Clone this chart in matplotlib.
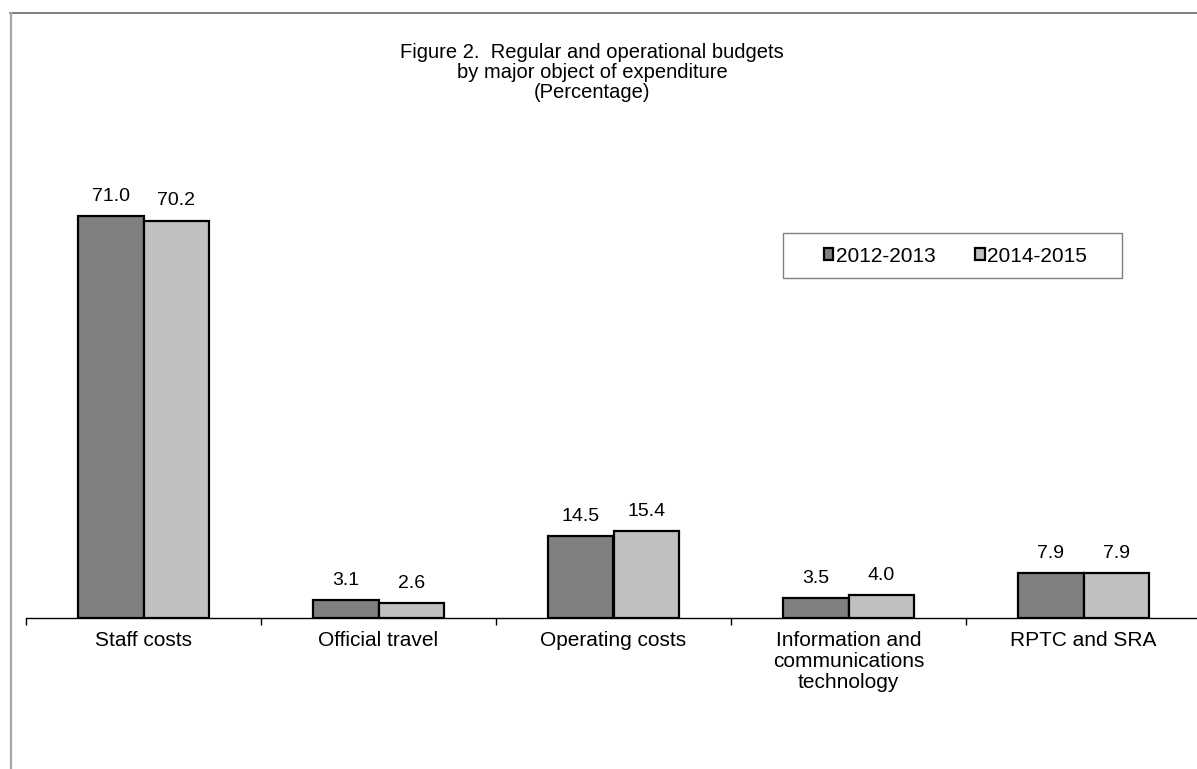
import matplotlib
matplotlib.use("Agg")
import matplotlib.pyplot as plt
import numpy as np
from matplotlib.lines import Line2D
from matplotlib.patches import Rectangle

plt.rcParams['font.family'] = ['Liberation Sans', 'DejaVu Sans']

categories = ["Staff costs", "Official travel", "Operating costs",
              "Information and\ncommunications\ntechnology", "RPTC and SRA"]
series_names = ["2012-2013", "2014-2015"]
values_2012_2013 = [71.0, 3.1, 14.5, 3.5, 7.9]
values_2014_2015 = [70.2, 2.6, 15.4, 4.0, 7.9]
colors = ["#808080", "#C0C0C0"]

W, H = 1197, 769
fig = plt.figure(figsize=(W / 100, H / 100), dpi=100)


def fx(px):
    return px / W


def fy(py):
    return 1 - py / H


# outer chart frame: top and left edges
fig.add_artist(Line2D([fx(10), 1.0], [fy(13), fy(13)], transform=fig.transFigure,
                      color="#6a6a6a", linewidth=1.2))
fig.add_artist(Line2D([fx(10.5), fx(10.5)], [fy(13), 0], transform=fig.transFigure,
                      color="#a8a8a8", linewidth=1.6))

ax_left, ax_right = 26, 1201
ax_bottom, ymax = 618, 80
px_per_unit = 402 / 71.0
ax_top = ax_bottom - ymax * px_per_unit
ax = fig.add_axes([fx(ax_left), fy(ax_bottom),
                   (ax_right - ax_left) / W, (ax_bottom - ax_top) / H])
ax.set_xlim(-0.5, len(categories) - 0.5)
ax.set_ylim(0, ymax)

x = np.arange(len(categories))
bw = 0.279
handles = []
for vals, col, name, off in [(values_2012_2013, colors[0], series_names[0], -bw / 2),
                             (values_2014_2015, colors[1], series_names[1], bw / 2)]:
    bars = ax.bar(x + off, vals, width=bw, color=col, edgecolor="black",
                  linewidth=1.6, label=name, zorder=3)
    handles.append(bars)
    for b, v in zip(bars, vals):
        ax.annotate(f"{v:.1f}", (b.get_x() + b.get_width() / 2, v),
                    xytext=(0, 11), textcoords="offset points",
                    ha="center", va="baseline", fontsize=14)

for s in ["top", "right", "left"]:
    ax.spines[s].set_visible(False)
ax.spines["bottom"].set_linewidth(1.0)
ax.set_yticks([])
ax.set_xticks(np.arange(-0.5, len(categories), 1.0))
ax.set_xticklabels([])
ax.tick_params(axis="x", which="major", length=5, width=1.0, direction="out")
ax.set_xticks(x, minor=True)
ax.set_xticklabels(categories, minor=True, fontsize=15, linespacing=1.15)
ax.tick_params(axis="x", which="minor", length=0, pad=9)

# legend box and entries
fig.patches.append(Rectangle((fx(783), fy(278)), fx(1122) - fx(783), fy(233) - fy(278),
                             transform=fig.transFigure, fill=False,
                             edgecolor="#808080", linewidth=1.0))
fig.legend(handles=handles, labels=series_names, loc="center left",
           bbox_to_anchor=(fx(824), fy(256)), ncol=2, fontsize=15, frameon=False,
           handlelength=0.45, handleheight=0.45, handletextpad=0.12,
           columnspacing=1.9, borderpad=0, borderaxespad=0)

fig.text(fx(592), fy(43),
         "Figure 2.  Regular and operational budgets\nby major object of expenditure\n(Percentage)",
         ha="center", va="top", fontsize=14.5, linespacing=1.05)

fig.savefig("out.png", dpi=100)
